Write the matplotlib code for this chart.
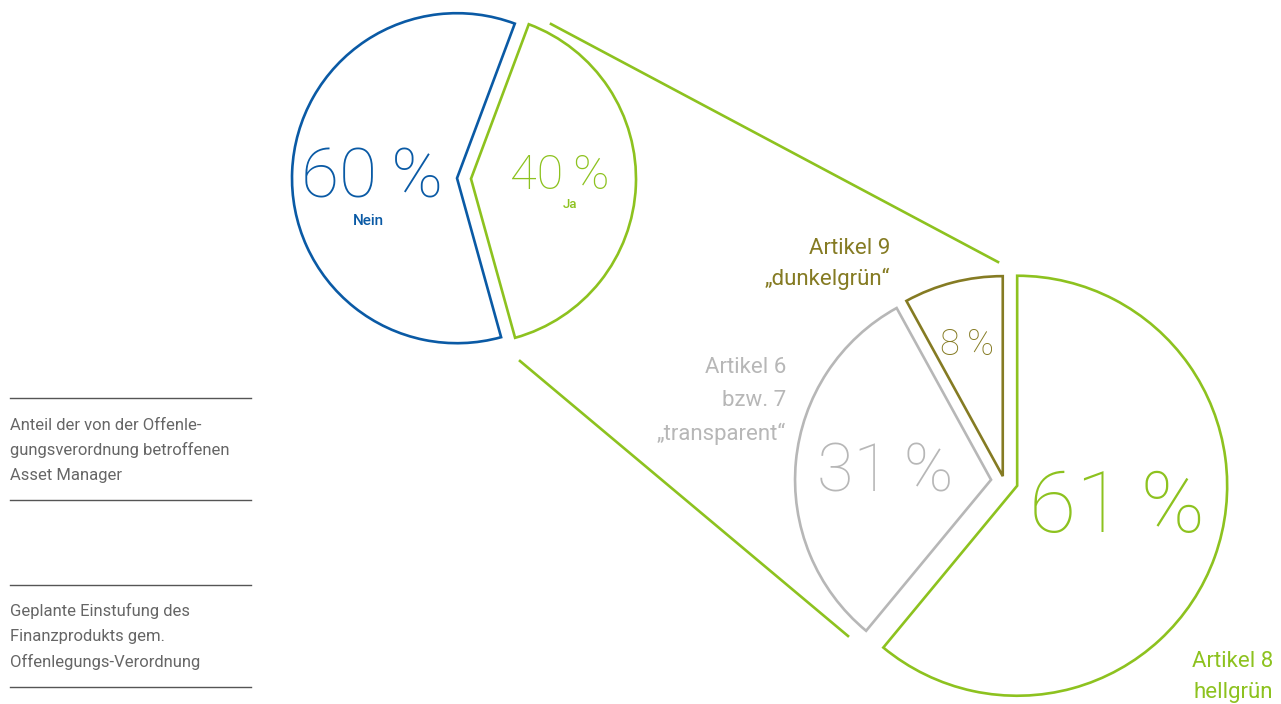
import matplotlib
matplotlib.use('Agg')
import matplotlib.pyplot as plt

plt.rcParams['font.family'] = ['Roboto', 'DejaVu Sans']

W, H = 1281, 704

# data
share_labels = ['Ja', 'Nein']
share_values = [40, 60]
class_labels = ['Artikel 8 hellgrün', 'Artikel 6 bzw. 7 „transparent“', 'Artikel 9 „dunkelgrün“']
class_values = [61, 31, 8]

blue = '#0a5aa5'
green = '#8dc21f'
olive = '#857b23'
grey = '#b7b7b7'
txt = '#666666'

fig = plt.figure(figsize=(W / 100, H / 100), dpi=100)
ax = fig.add_axes([0, 0, 1, 1])

def Y(py):
    return H - py

# erster Kreis: betroffen ja/nein
w1, _ = ax.pie(share_values, colors=[green, blue], startangle=-74.5, counterclock=True,
               explode=[7, 7], radius=165, center=(464, Y(178.5)), frame=True)
for w, c in zip(w1, [green, blue]):
    w.set_facecolor('none')
    w.set_edgecolor(c)
    w.set_linewidth(1.9)
    w.set_joinstyle('miter')

# zweiter Kreis: Einstufung
w2, _ = ax.pie(class_values, colors=[green, grey, olive], startangle=90, counterclock=False,
               explode=[14, 13, 5], radius=210, center=(1004, Y(481)), frame=True)
for w, c, r in zip(w2, [green, grey, olive], [210, 196, 200]):
    w.set_facecolor('none')
    w.set_edgecolor(c)
    w.set_linewidth(1.9)
    w.set_joinstyle('miter')
    w.set_radius(r)

# Verbindungslinien
ax.plot([551, 998], [Y(24), Y(262)], color=green, lw=1.9)
ax.plot([520, 848], [Y(361), Y(636)], color=green, lw=1.9)

# Werte
ts = '\u2009'
ax.text(372, Y(197), f'{share_values[1]}{ts}%', color=blue, fontsize=50, ha='center', va='baseline', fontweight='light')
ax.text(368, Y(225), share_labels[1], color=blue, fontsize=11, ha='center', va='baseline', fontweight='medium')
ax.text(560, Y(189), f'{share_values[0]}{ts}%', color=green, fontsize=35, ha='center', va='baseline', fontweight='light')
ax.text(570, Y(208), share_labels[0], color=green, fontsize=9.5, ha='center', va='baseline', fontweight='medium')

ax.text(1117, Y(532), f'{class_values[0]}{ts}%', color=green, fontsize=62, ha='center', va='baseline', fontweight='light')
ax.text(885, Y(492), f'{class_values[1]}{ts}%', color=grey, fontsize=48, ha='center', va='baseline', fontweight='light')
ax.text(967, Y(355), f'{class_values[2]}{ts}%', color=olive, fontsize=26, ha='center', va='baseline', fontweight='light')

ax.text(890, Y(254), 'Artikel 9', color=olive, fontsize=16, ha='right', va='baseline')
ax.text(890, Y(285), '„dunkelgrün“', color=olive, fontsize=16, ha='right', va='baseline')
for i, s in enumerate(['Artikel 6', 'bzw. 7', '„transparent“']):
    ax.text(786, Y(373 + 33.5 * i), s, color=grey, fontsize=16, ha='right', va='baseline')
ax.text(1273, Y(667), 'Artikel 8', color=green, fontsize=16, ha='right', va='baseline')
ax.text(1273, Y(698), 'hellgrün', color=green, fontsize=16, ha='right', va='baseline')

# Legende links
for py in [398, 500, 585, 687]:
    ax.plot([10, 251], [Y(py), Y(py)], color='#555555', lw=1.0)
for i, s in enumerate(['Anteil der von der Offenle-', 'gungsverordnung betroffenen', 'Asset Manager']):
    ax.text(10, Y(430 + 25 * i), s, color=txt, fontsize=12, ha='left', va='baseline')
for i, s in enumerate(['Geplante Einstufung des', 'Finanzprodukts gem.', 'Offenlegungs-Verordnung']):
    ax.text(10, Y(616 + 25.5 * i), s, color=txt, fontsize=12, ha='left', va='baseline')

ax.set_xlim(0, W)
ax.set_ylim(0, H)
ax.set_aspect('auto')
ax.axis('off')

fig.savefig('out.png', dpi=100)
